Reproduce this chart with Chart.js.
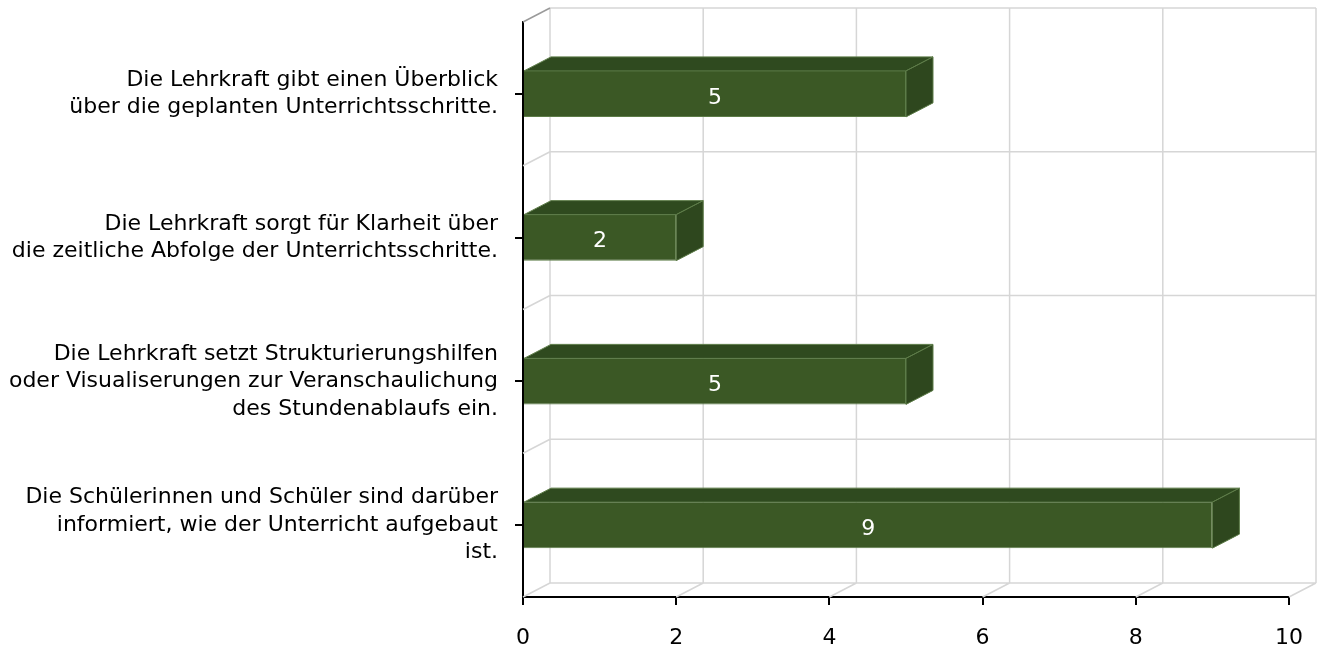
<!DOCTYPE html>
<html>
<head>
<meta charset="utf-8">
<script src="https://cdn.jsdelivr.net/npm/chart.js@4/dist/chart.umd.min.js"></script>
<style>
  html, body { margin: 0; padding: 0; background: #fff; }
  #wrap { width: 1319px; height: 652px; position: relative; }
</style>
</head>
<body>
<div id="wrap"><canvas id="chart"></canvas></div>
<script>
// data
const categories = [
  ['Die Lehrkraft gibt einen Überblick', 'über die geplanten Unterrichtsschritte.'],
  ['Die Lehrkraft sorgt für Klarheit über', 'die zeitliche Abfolge der Unterrichtsschritte.'],
  ['Die Lehrkraft setzt Strukturierungshilfen', 'oder Visualiserungen zur Veranschaulichung', 'des Stundenablaufs ein.'],
  ['Die Schülerinnen und Schüler sind darüber', 'informiert, wie der Unterricht aufgebaut', 'ist.']
]
const counts = [5, 2, 5, 9]
const xMin = 0
const xMax = 10
const xStep = 2

// fake 3d depth
const DX = 27
const DY = -14
const FONT = "'DejaVu Sans', Verdana, sans-serif"

const backWall = {
  id: 'backWall',
  beforeDatasetsDraw(chart) {
    const { ctx, chartArea: a, scales } = chart
    const xs = scales.x.ticks.map(t => scales.x.getPixelForValue(t.value))
    const n = categories.length
    const ys = [a.top]
    for (let i = 0; i < n - 1; i++) {
      ys.push((scales.y.getPixelForValue(i) + scales.y.getPixelForValue(i + 1)) / 2)
    }
    ys.push(a.bottom)

    ctx.save()
    ctx.lineWidth = 1.5
    ctx.strokeStyle = '#d6d6d6'
    ctx.beginPath()
    // back verticals + floor diagonals
    xs.forEach(x => {
      ctx.moveTo(x + DX, a.top + DY)
      ctx.lineTo(x + DX, a.bottom + DY)
      ctx.moveTo(x, a.bottom)
      ctx.lineTo(x + DX, a.bottom + DY)
    })
    // back horizontals + left wall diagonals
    ys.forEach((y, i) => {
      ctx.moveTo(a.left + DX, y + DY)
      ctx.lineTo(a.right + DX, y + DY)
      if (i > 0) {
        ctx.moveTo(a.left, y)
        ctx.lineTo(a.left + DX, y + DY)
      }
    })
    ctx.stroke()
    ctx.strokeStyle = '#9a9a9a'
    ctx.beginPath()
    ctx.moveTo(a.left, a.top)
    ctx.lineTo(a.left + DX, a.top + DY)
    ctx.stroke()
    ctx.restore()
  }
}

const barFaces = {
  id: 'barFaces',
  afterDatasetsDraw(chart) {
    const { ctx } = chart
    const meta = chart.getDatasetMeta(0)
    ctx.save()
    ctx.lineWidth = 1
    ctx.strokeStyle = '#5d7c48'
    meta.data.forEach((bar, i) => {
      const p = bar.getProps(['x', 'y', 'base', 'height'], true)
      const x0 = p.base, x1 = p.x
      const top = p.y - p.height / 2, bottom = p.y + p.height / 2
      // top face
      ctx.fillStyle = '#2f4a1f'
      ctx.beginPath()
      ctx.moveTo(x0, top)
      ctx.lineTo(x0 + DX, top + DY)
      ctx.lineTo(x1 + DX, top + DY)
      ctx.lineTo(x1, top)
      ctx.closePath()
      ctx.fill()
      ctx.stroke()
      // side face
      ctx.fillStyle = '#2e471e'
      ctx.beginPath()
      ctx.moveTo(x1, top)
      ctx.lineTo(x1 + DX, top + DY)
      ctx.lineTo(x1 + DX, bottom + DY)
      ctx.lineTo(x1, bottom)
      ctx.closePath()
      ctx.fill()
      ctx.stroke()
      // value label
      ctx.fillStyle = '#ffffff'
      ctx.font = '22px ' + FONT
      ctx.textAlign = 'center'
      ctx.textBaseline = 'middle'
      ctx.fillText(String(counts[i]), (x0 + x1) / 2, p.y + 4)
    })
    ctx.restore()
  }
}

new Chart(document.getElementById('chart'), {
  type: 'bar',
  data: {
    labels: categories,
    datasets: [{
      data: counts,
      backgroundColor: '#3b5825',
      borderColor: '#5d7c48',
      borderWidth: { top: 0, left: 0, right: 1, bottom: 1 },
      categoryPercentage: 1,
      barPercentage: 0.32
    }]
  },
  options: {
    indexAxis: 'y',
    responsive: true,
    maintainAspectRatio: false,
    animation: false,
    layout: { padding: { top: 22, right: 30, left: 0, bottom: 0 } },
    plugins: {
      legend: { display: false },
      tooltip: { enabled: false }
    },
    scales: {
      x: {
        min: xMin,
        max: xMax,
        ticks: { stepSize: xStep, color: '#000', padding: 20, font: { family: FONT, size: 22 } },
        grid: { drawOnChartArea: false, tickLength: 8, tickColor: '#000', lineWidth: 2 },
        border: { color: '#000', width: 2 },
        afterFit: (s) => { s.height = 55; s.paddingLeft = 0; s.paddingRight = 0 }
      },
      y: {
        ticks: { color: '#000', padding: 17, font: { family: FONT, size: 22, lineHeight: 1.25 } },
        grid: { drawOnChartArea: false, offset: false, tickLength: 8, tickColor: '#000', lineWidth: 2 },
        border: { color: '#000', width: 2 },
        afterFit: (s) => { s.width = 523; s.paddingTop = 0; s.paddingBottom = 0 }
      }
    }
  },
  plugins: [backWall, barFaces]
})
</script>
</body>
</html>
